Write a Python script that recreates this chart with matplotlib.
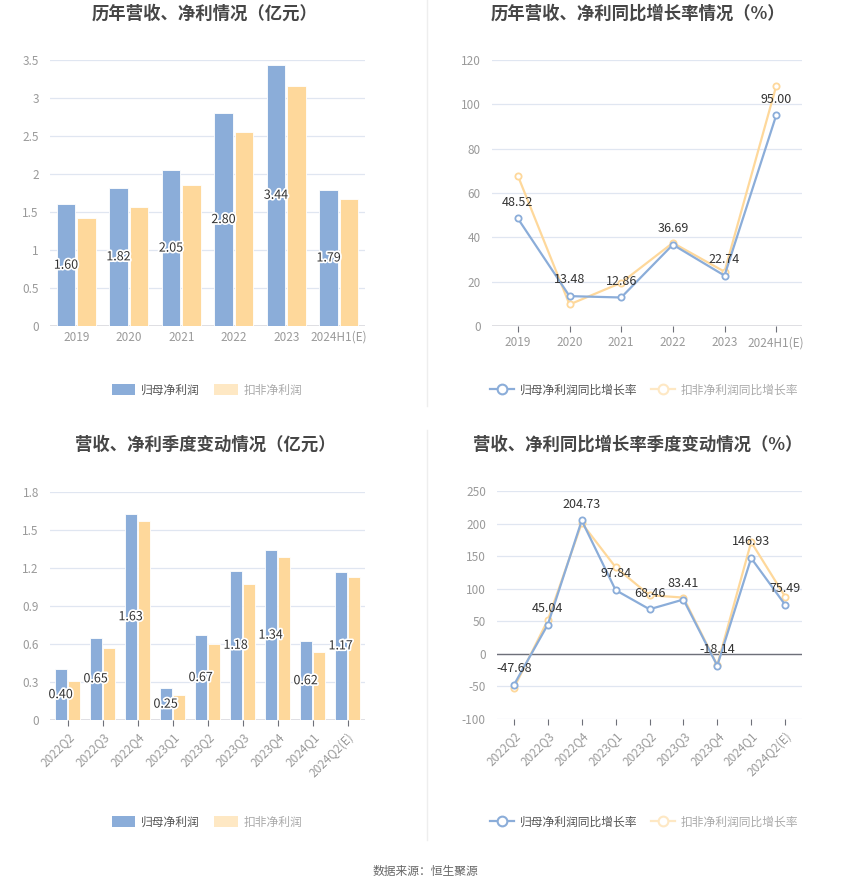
import matplotlib
matplotlib.use("Agg")
import matplotlib.pyplot as plt
import matplotlib.patheffects as pe
from matplotlib.patches import Patch
from matplotlib.lines import Line2D
import numpy as np

plt.rcParams['font.family'] = ['Noto Sans CJK SC', 'DejaVu Sans']

# 年度数据
years = ["2019", "2020", "2021", "2022", "2023", "2024H1(E)"]
net_profit = [1.60, 1.82, 2.05, 2.80, 3.44, 1.79]
deducted_profit = [1.42, 1.56, 1.85, 2.55, 3.16, 1.67]
net_growth = [48.52, 13.48, 12.86, 36.69, 22.74, 95.00]
deducted_growth = [67.8, 9.7, 19.5, 37.5, 24.5, 108.2]

# 季度数据
quarters = ["2022Q2", "2022Q3", "2022Q4", "2023Q1", "2023Q2", "2023Q3",
            "2023Q4", "2024Q1", "2024Q2(E)"]
q_net_profit = [0.40, 0.65, 1.63, 0.25, 0.67, 1.18, 1.34, 0.62, 1.17]
q_deducted_profit = [0.31, 0.57, 1.57, 0.20, 0.60, 1.07, 1.29, 0.54, 1.13]
q_net_growth = [-47.68, 45.04, 204.73, 97.84, 68.46, 83.41, -18.14, 146.93, 75.49]
q_deducted_growth = [-52.3, 51.8, 200.7, 133.0, 90.0, 86.4, -17.3, 171.7, 88.0]

BLUE = "#8badd9"
ORANGE = "#fed89b"
ORANGE_LEG = "#fee8c4"
GRID = "#e0e6f1"
AXIS = "#6e7079"
TICK = "#9a9a9a"
TEXT = "#333333"

W, H = 850, 891
fig = plt.figure(figsize=(W / 100, H / 100), dpi=100)


def add_ax(left, top, right, bottom):
    return fig.add_axes([left / W, 1 - bottom / H, (right - left) / W, (bottom - top) / H])


def style_ax(ax, ticks, yticks, rot=False, xticks_marks=True):
    ax.set_yticks(yticks)
    ax.set_yticklabels([f"{t:g}" for t in yticks])
    ax.set_ylim(yticks[0], yticks[-1])
    ax.grid(axis="y", color=GRID, lw=0.9)
    ax.set_axisbelow(True)
    for s in ["top", "right", "left", "bottom"]:
        ax.spines[s].set_visible(False)
    ax.axhline(0, color=AXIS, lw=1, zorder=1)
    ax.tick_params(axis="y", length=0, colors=TICK, labelsize=8.5, pad=8)
    ax.tick_params(axis="x", colors=AXIS, labelcolor=TICK, labelsize=8.5,
                   length=4 if xticks_marks else 0, width=0.8)
    x = np.arange(len(ticks))
    ax.set_xticks(x)
    if rot:
        ax.set_xticklabels(ticks, rotation=45, ha="right", rotation_mode="anchor")
    else:
        ax.set_xticklabels(ticks)
    ax.set_xlim(-0.5, len(ticks) - 0.5)


def bar_chart(ax, cats, a, b, yticks, rot):
    x = np.arange(len(cats))
    w = 0.35
    ax.bar(x - 0.195, a, w, color=BLUE, edgecolor="white", lw=0.6, zorder=2)
    ax.bar(x + 0.195, b, w, color=ORANGE, edgecolor="white", lw=0.6, zorder=2)
    for xi, v in zip(x, a):
        ax.text(xi - 0.195, v / 2, f"{v:.2f}", ha="center", va="center", fontsize=9,
                color=TEXT, zorder=4,
                path_effects=[pe.withStroke(linewidth=2.5, foreground="white")])
    style_ax(ax, cats, yticks, rot, xticks_marks=rot)


def line_chart(ax, cats, a, b, yticks, rot):
    x = np.arange(len(cats))
    ax.plot(x, b, color=ORANGE, lw=1.6, marker="o", ms=4.5, mfc="white", mew=1.3, zorder=3)
    ax.plot(x, a, color=BLUE, lw=1.6, marker="o", ms=4.5, mfc="white", mew=1.3, zorder=4)
    for xi, v in zip(x, a):
        ax.annotate(f"{v:.2f}", (xi, v), xytext=(0, 7), textcoords="offset points",
                    ha="center", va="bottom", fontsize=9, color=TEXT, zorder=5)
    style_ax(ax, cats, yticks, rot)


ax1 = add_ax(50, 60, 365, 326)
bar_chart(ax1, years, net_profit, deducted_profit, [0, 0.5, 1, 1.5, 2, 2.5, 3, 3.5], False)

ax2 = add_ax(492, 60, 802, 326)
line_chart(ax2, years, net_growth, deducted_growth, [0, 20, 40, 60, 80, 100, 120], False)

ax3 = add_ax(50, 492, 365, 720)
bar_chart(ax3, quarters, q_net_profit, q_deducted_profit,
          [0, 0.3, 0.6, 0.9, 1.2, 1.5, 1.8], True)
ax3.set_yticklabels(["0", "0.3", "0.6", "0.9", "1.2", "1.5", "1.8"])

ax4 = add_ax(497, 491, 802, 719)
line_chart(ax4, quarters, q_net_growth, q_deducted_growth,
           [-100, -50, 0, 50, 100, 150, 200, 250], True)

# 标题
titles = [("历年营收、净利情况（亿元）", 205, 14),
          ("历年营收、净利同比增长率情况（%）", 638, 14),
          ("营收、净利季度变动情况（亿元）", 205, 445),
          ("营收、净利同比增长率季度变动情况（%）", 638, 445)]
for t, x, y in titles:
    fig.text(x / W, 1 - y / H, t, ha="center", va="center", fontsize=12.5,
             fontweight="bold", color="#464646")

# 图例
bar_handles = [Patch(facecolor=BLUE, edgecolor="none"),
               Patch(facecolor=ORANGE_LEG, edgecolor="none")]
bar_labels = ["归母净利润", "扣非净利润"]
line_handles = [Line2D([], [], color=BLUE, lw=1.6, marker="o", ms=7, mfc="white", mew=1.5),
                Line2D([], [], color=ORANGE_LEG, lw=1.6, marker="o", ms=7, mfc="white", mew=1.5)]
line_labels = ["归母净利润同比增长率", "扣非净利润同比增长率"]

for handles, labels, x, y in [(bar_handles, bar_labels, 207, 390),
                              (line_handles, line_labels, 644, 390),
                              (bar_handles, bar_labels, 207, 822),
                              (line_handles, line_labels, 644, 822)]:
    leg = fig.legend(handles, labels, loc="center", bbox_to_anchor=(x / W, 1 - y / H),
                     ncol=2, frameon=False, fontsize=8.5, handlelength=2.0,
                     handleheight=1.0, columnspacing=1.2, handletextpad=0.5)
    for i, txt in enumerate(leg.get_texts()):
        txt.set_color("#555555" if i == 0 else "#aaaaaa")

# 分隔线
fig.add_artist(Line2D([427 / W, 427 / W], [1 - 0 / H, 1 - 406 / H], color="#eeeeee", lw=1))
fig.add_artist(Line2D([427 / W, 427 / W], [1 - 430 / H, 1 - 840 / H], color="#eeeeee", lw=1))

fig.text(425 / W, 1 - 871 / H, "数据来源：恒生聚源", ha="center", va="center",
         fontsize=8.5, color="#666666")

fig.savefig("out.png", dpi=100, facecolor="white")
